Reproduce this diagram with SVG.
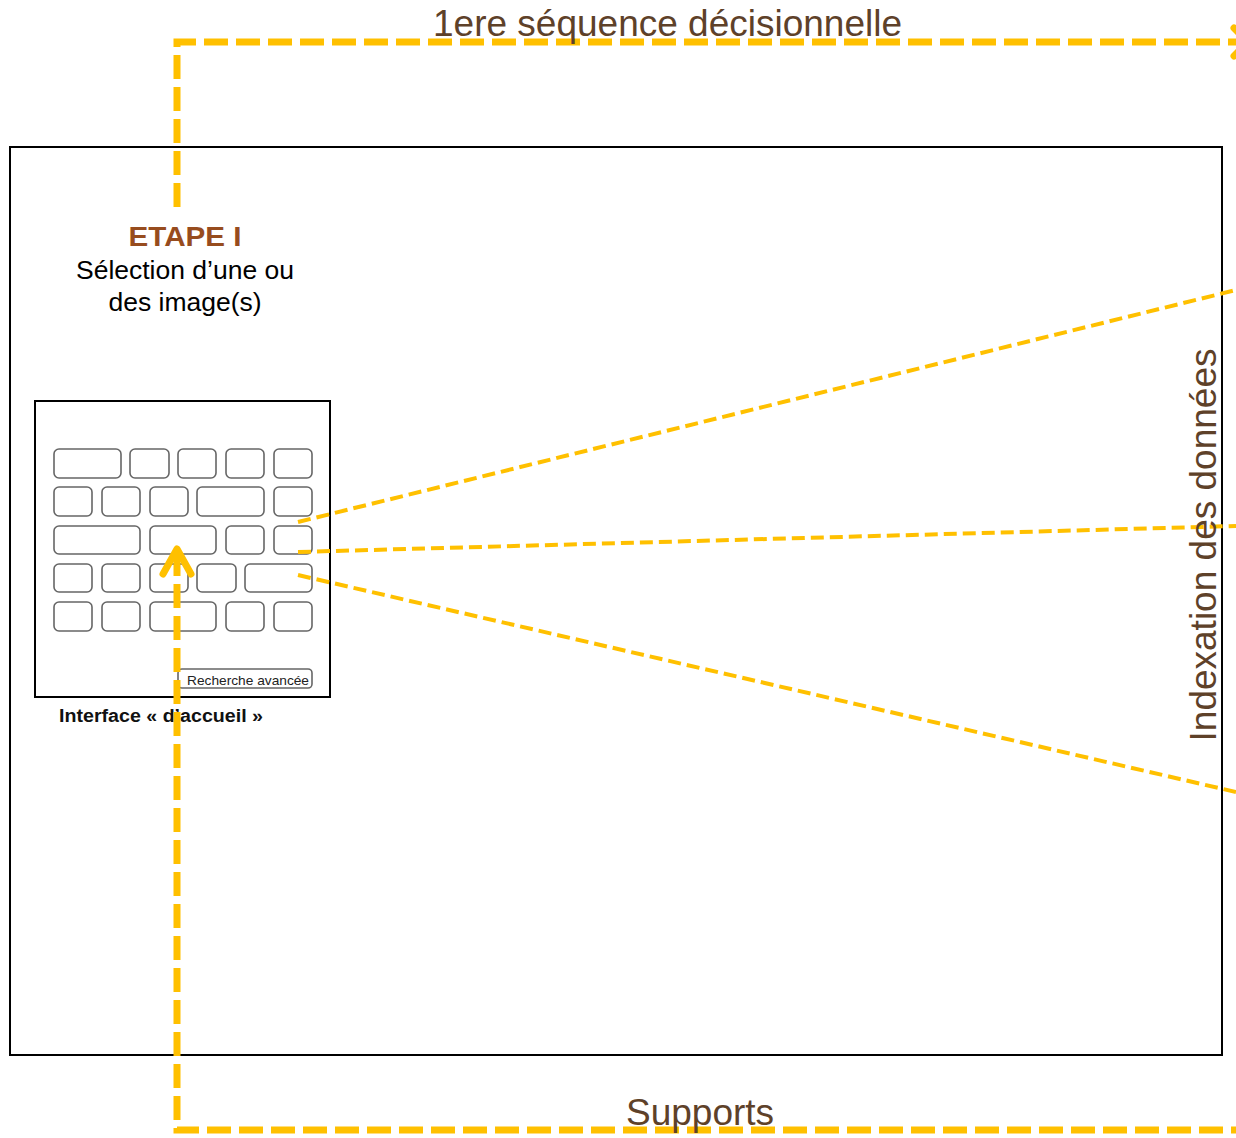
<svg xmlns="http://www.w3.org/2000/svg" width="1236" height="1138" viewBox="0 0 1236 1138">
<style>
.thick{fill:none;stroke:#FFC000;stroke-width:7;stroke-dasharray:24 8}
.thin{fill:none;stroke:#FFC000;stroke-width:4;stroke-dasharray:13 6}
.btn{fill:#fff;stroke:#666;stroke-width:1.6}
.lbl{font-family:"Liberation Sans",Arial,sans-serif;fill:#5E4129}
.txt{font-family:"Liberation Sans",Arial,sans-serif;fill:#000}
</style>
<rect width="1236" height="1138" fill="#fff"/>
<g id="frame">
<rect x="10" y="147" width="1212" height="908" fill="none" stroke="#000" stroke-width="2"/>
</g>
<g id="etape">
<text class="txt" x="185" y="246" text-anchor="middle" font-size="28" font-weight="bold" textLength="113" lengthAdjust="spacingAndGlyphs" style="fill:#974C1E">ETAPE I</text>
<text class="txt" x="185" y="279" text-anchor="middle" font-size="26.5">Sélection d’une ou</text>
<text class="txt" x="185" y="311" text-anchor="middle" font-size="26.5">des image(s)</text>
</g>
<g id="interface">
<rect x="35" y="401" width="295" height="296" fill="#fff" stroke="#000" stroke-width="2"/>
<rect class="btn" x="54" y="449" width="67" height="29" rx="5"/>
<rect class="btn" x="130" y="449" width="39" height="29" rx="5"/>
<rect class="btn" x="178" y="449" width="38" height="29" rx="5"/>
<rect class="btn" x="226" y="449" width="38" height="29" rx="5"/>
<rect class="btn" x="274" y="449" width="38" height="29" rx="5"/>
<rect class="btn" x="54" y="487" width="38" height="29" rx="5"/>
<rect class="btn" x="102" y="487" width="38" height="29" rx="5"/>
<rect class="btn" x="150" y="487" width="38" height="29" rx="5"/>
<rect class="btn" x="197" y="487" width="67" height="29" rx="5"/>
<rect class="btn" x="274" y="487" width="38" height="29" rx="5"/>
<rect class="btn" x="54" y="526" width="86" height="28" rx="5"/>
<rect class="btn" x="150" y="526" width="66" height="28" rx="5"/>
<rect class="btn" x="226" y="526" width="38" height="28" rx="5"/>
<rect class="btn" x="274" y="526" width="38" height="28" rx="5"/>
<rect class="btn" x="54" y="564" width="38" height="28" rx="5"/>
<rect class="btn" x="102" y="564" width="38" height="28" rx="5"/>
<rect class="btn" x="150" y="564" width="38" height="28" rx="5"/>
<rect class="btn" x="197" y="564" width="39" height="28" rx="5"/>
<rect class="btn" x="245" y="564" width="67" height="28" rx="5"/>
<rect class="btn" x="54" y="602" width="38" height="29" rx="5"/>
<rect class="btn" x="102" y="602" width="38" height="29" rx="5"/>
<rect class="btn" x="150" y="602" width="66" height="29" rx="5"/>
<rect class="btn" x="226" y="602" width="38" height="29" rx="5"/>
<rect class="btn" x="274" y="602" width="38" height="29" rx="5"/>
<rect class="btn" x="178" y="669" width="134" height="19" rx="4"/>
<text class="txt" x="187" y="685" font-size="13.5" textLength="122" lengthAdjust="spacingAndGlyphs" style="fill:#222">Recherche avancée</text>
<text class="txt" x="59" y="722" font-size="18" font-weight="bold" textLength="204" lengthAdjust="spacingAndGlyphs" style="fill:#111">Interface « d’accueil »</text>
</g>
<g id="connectors">
<path class="thick" d="M177 207 V42 H1240"/>
<polyline points="1234,28 1248,42 1234,56" fill="none" stroke="#FFC000" stroke-width="7" stroke-linecap="round" stroke-linejoin="round"/>
<path class="thick" d="M177 552 V1130 H1240"/>
<polyline points="163,574 177,549 191,574" fill="none" stroke="#FFC000" stroke-width="7" stroke-linecap="round" stroke-linejoin="round"/>
<line class="thin" x1="298" y1="522" x2="1236" y2="290"/>
<line class="thin" x1="298" y1="552" x2="1236" y2="526"/>
<line class="thin" x1="298" y1="575" x2="1236" y2="792"/>
</g>
<g id="labels">
<text class="lbl" x="433" y="36" font-size="37">1ere séquence décisionnelle</text>
<text class="lbl" x="626" y="1125" font-size="37">Supports</text>
<text class="lbl" transform="translate(1216 545) rotate(-90)" text-anchor="middle" font-size="37">Indexation des données</text>
</g>
</svg>
